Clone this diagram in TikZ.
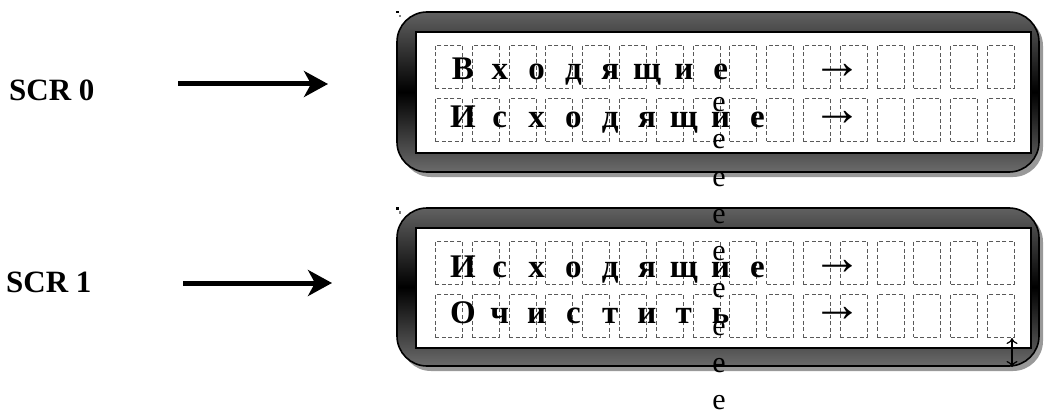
\documentclass[tikz,border=0pt]{standalone}
\usepackage{fontspec}
\setmainfont{Liberation Serif}
\usetikzlibrary{arrows.meta}
\tikzset{
  frameshadow/.style={fill=black!40, rounded corners=30pt},
  frame/.style={draw=black, line width=1.6pt, rounded corners=30pt,
     top color=black!62, bottom color=black!58, middle color=black},
  screen/.style={draw=black, line width=1.6pt, fill=white},
  cellbox/.style={draw=black!65, dash pattern=on 4pt off 2.5pt, line width=0.8pt,
     minimum width=27pt, minimum height=43pt, inner sep=0pt, anchor=north west},
  letter/.style={font=\bfseries\fontsize{33}{33}\selectfont, anchor=base, inner sep=0pt},
  plaine/.style={font=\fontsize{30}{30}\selectfont, anchor=base, inner sep=0pt},
  arrowtxt/.style={font=\fontsize{50}{50}\selectfont, anchor=center, inner sep=0pt},
  label/.style={font=\bfseries\fontsize{31}{31}\selectfont, anchor=base west, inner sep=0pt},
  bigarrow/.style={line width=5pt, -{Stealth[length=24pt,width=26pt,inset=7pt]}},
  dblarrow/.style={line width=1.2pt, {To[length=6pt,width=11pt]}-{To[length=6pt,width=11pt]}},
}
\begin{document}
\begin{tikzpicture}[x=1pt,y=-1pt]
\useasboundingbox (0,0) rectangle (1045,412);

% ---- panels ----
\foreach \p/\ot/\ob/\it/\ib in {1/12/172/32/153, 2/208/366/228/348}{
  \fill[frameshadow] (401,\ot+4) rectangle (1043,\ob+5);
  \path[frame] (397,\ot) rectangle (1039,\ob);
  \path[screen] (416,\it) rectangle (1031,\ib);
  \fill (396,\ot-1) rectangle (399,\ot+1.5);
  \fill[black!50] (398.5,\ot+3) rectangle (401,\ot+5.5);
}

% ---- cells ----
\foreach \p/\r/\y in {1/1/45, 1/2/98, 2/1/241, 2/2/294}{
  \foreach \i in {0,...,15}{
    \node[cellbox] (c\p\r\i) at ({435+36.8*\i},\y) {};
  }
}

% ---- letters ----
\foreach \ch [count=\i from 0] in {В,х,о,д,я,щ,и,е}
  \node[letter] (a\i) at ({463+36.8*\i},80) {\ch};
\foreach \ch [count=\i from 0] in {И,с,х,о,д,я,щ,и,е}
  \node[letter] (b\i) at ({463+36.8*\i},128) {\ch};
\foreach \ch [count=\i from 0] in {И,с,х,о,д,я,щ,и,е}
  \node[letter] (d\i) at ({463+36.8*\i},277) {\ch};
\foreach \ch [count=\i from 0] in {О,ч,и,с,т,и,т,ь}
  \node[letter] (f\i) at ({463+36.8*\i},323) {\ch};

% ---- arrows in screens ----
\foreach \n/\y in {1/71, 2/118, 3/267, 4/314}
  \node[arrowtxt] (r\n) at (837,\y) {→};

% ---- vertical column of e ----
\foreach \k in {0,...,8}
  \node[plaine] (e\k) at (719,{111.5+37.25*\k}) {е};

% ---- double arrow ----
\coordinate (dt) at (1012,338);
\coordinate (db) at (1012,367);
\draw[dblarrow] (dt) -- (db);

% ---- labels and big arrows ----
\node[label] (scr0) at (9,100) {SCR 0};
\node[label] (scr1) at (6,292) {SCR 1};
\coordinate (s0a) at (178,84);
\coordinate (s0b) at (328,84);
\coordinate (s1a) at (183,283);
\coordinate (s1b) at (332,283);
\draw[bigarrow] (s0a) -- (s0b);
\draw[bigarrow] (s1a) -- (s1b);
\end{tikzpicture}
\end{document}
